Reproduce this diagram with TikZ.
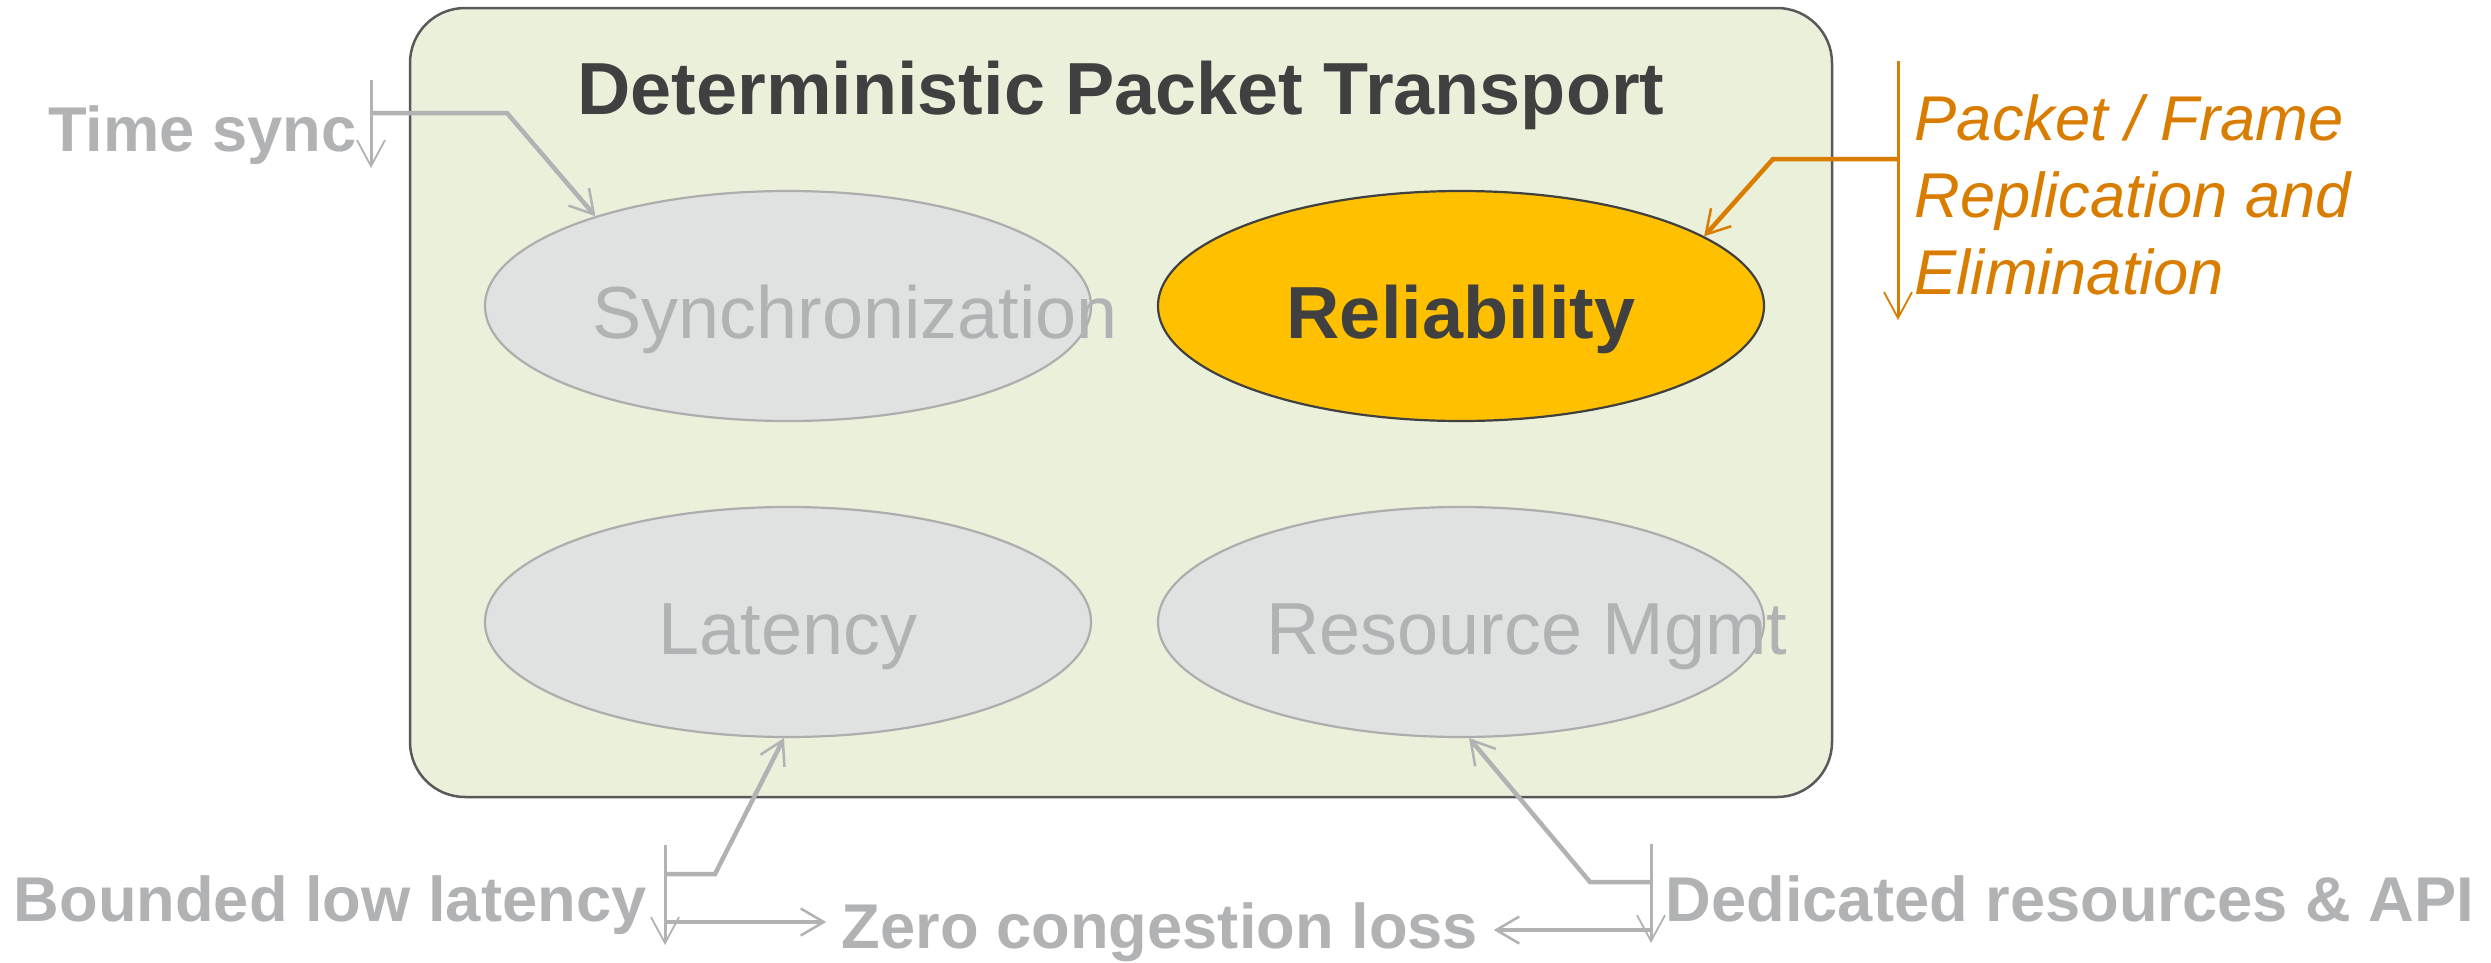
\documentclass[tikz,border=0pt]{standalone}
\usepackage{fontspec}
\setmainfont{Liberation Sans}
\usetikzlibrary{shapes.geometric,arrows.meta,calc}

\definecolor{boxfill}{HTML}{EBF0DA}
\definecolor{boxline}{HTML}{595959}
\definecolor{ovalfill}{HTML}{E0E1E1}
\definecolor{ovalline}{HTML}{ADADAD}
\definecolor{darktext}{HTML}{404040}
\definecolor{greytext}{HTML}{B1B2B4}
\definecolor{amber}{HTML}{FFC000}
\definecolor{orangeline}{HTML}{D97D00}

\tikzset{
  oval/.style={ellipse, draw=ovalline, fill=ovalfill, line width=0.22mm,
    minimum width=60.6mm, minimum height=23mm, inner sep=0pt},
  ovaltext/.style={anchor=base, inner sep=0pt, font=\fontsize{21pt}{25pt}\selectfont},
  greylabel/.style={inner sep=0pt, text=greytext,
    font=\fontsize{18pt}{21.6pt}\selectfont\bfseries},
  bar/.style={line width=0.3mm, -{Straight Barb[length=2.6mm,width=2.8mm,line width=0.18mm]}},
  leader/.style={line width=0.45mm, -{Straight Barb[length=2.3mm,width=2.7mm,line width=0.25mm]}},
}

\begin{document}
\begin{tikzpicture}[x=0.1mm, y=-0.1mm]
\useasboundingbox (0,0) rectangle (2491,963);

% outer container
\draw[fill=boxfill, draw=boxline, line width=0.25mm, rounded corners=5.5mm]
  (410,8) rectangle (1832,797);
\node[anchor=base, inner sep=0pt, text=darktext,
  font=\fontsize{21pt}{25pt}\selectfont\bfseries] (title) at (1121,114)
  {Deterministic Packet Transport};

% the four properties
\node[oval] (sync) at (788,306) {};
\node[oval, fill=amber, draw=darktext] (rel) at (1461,306) {};
\node[oval] (lat) at (788,622) {};
\node[oval] (res) at (1461,622) {};

\node[ovaltext, text=greytext] (synct) at (855,338) {Synchronization};
\node[ovaltext, text=darktext, font=\fontsize{21pt}{25pt}\selectfont\bfseries] (relt) at (1461,338) {Reliability};
\node[ovaltext, text=greytext] (latt) at (788,654) {Latency};
\node[ovaltext, text=greytext] (rest) at (1527,654) {Resource Mgmt};

% side labels (a multi-line node sits on its last baseline)
\node[greylabel, anchor=base east] (ts) at (357,151) {Time sync};
\node[inner sep=0pt, anchor=base west, align=left, text=orangeline,
  font=\fontsize{18pt}{21.8pt}\selectfont\itshape] (pfre) at (1914,294)
  {Packet / Frame\\Replication and\\Elimination};
\node[greylabel, anchor=base west] (bll) at (13,921) {Bounded low latency};
\node[greylabel, anchor=base, inner xsep=1.5mm] (zcl) at (1160,948) {Zero congestion loss};
\node[greylabel, anchor=base west] (dra) at (1665,921) {Dedicated resources \& API};

% Time sync bracket and leader
\coordinate (tsTop) at (371,80);
\coordinate (tsBot) at (371,168);
\coordinate (tsJoin) at (371,113);
\coordinate (tsBend) at (507,113);
\draw[bar, draw=greytext] (tsTop) -- (tsBot);
\draw[leader, draw=greytext] (tsJoin) -- (tsBend) -- (sync.155);

% Replication bracket and leader
\coordinate (prTop) at (1898,61);
\coordinate (prBot) at (1898,320);
\coordinate (prJoin) at (1898,159);
\coordinate (prBend) at (1773,159);
\draw[bar, draw=orangeline] (prTop) -- (prBot);
\draw[leader, draw=orangeline] (prJoin) -- (prBend) -- (rel.16);

% Bounded low latency bracket
\coordinate (blTop) at (665,845);
\coordinate (blBot) at (665,945);
\coordinate (blJoin) at (665,874);
\coordinate (blBend) at (715,874);
\coordinate (blSide) at (665,922);
\draw[bar, draw=greytext] (blTop) -- (blBot);
\draw[leader, draw=greytext] (blJoin) -- (blBend) -- (lat.268);
\draw[leader, draw=greytext] (blSide) -- (blSide -| zcl.west);

% Dedicated resources bracket
\coordinate (drTop) at (1651,844);
\coordinate (drBot) at (1651,943);
\coordinate (drJoin) at (1651,882);
\coordinate (drBend) at (1590,882);
\coordinate (drSide) at (1651,930);
\draw[bar, draw=greytext] (drTop) -- (drBot);
\draw[leader, draw=greytext] (drJoin) -- (drBend) -- (res.274);
\draw[leader, draw=greytext] (drSide) -- (drSide -| zcl.east);
\end{tikzpicture}
\end{document}
